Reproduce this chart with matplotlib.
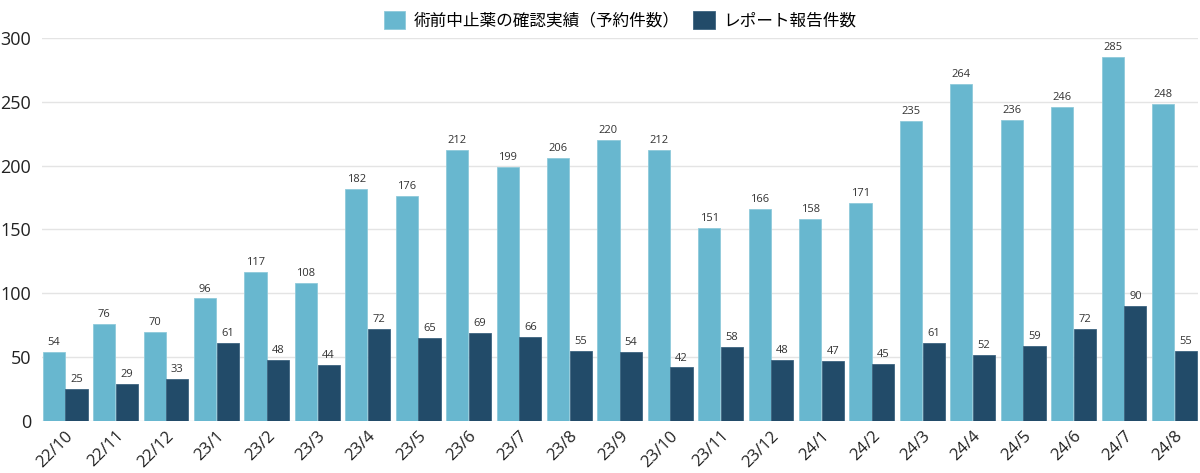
import numpy as np
import matplotlib.pyplot as plt

months = ["22/10", "22/11", "22/12",
          "23/1", "23/2", "23/3", "23/4", "23/5", "23/6", "23/7", "23/8", "23/9", "23/10", "23/11", "23/12",
          "24/1", "24/2", "24/3", "24/4", "24/5", "24/6", "24/7", "24/8"]
confirmed = [54, 76, 70, 96, 117, 108, 182, 176, 212, 199, 206, 220, 212, 151, 166, 158, 171, 235, 264, 236, 246, 285, 248]
reports = [25, 29, 33, 61, 48, 44, 72, 65, 69, 66, 55, 54, 42, 58, 48, 47, 45, 61, 52, 59, 72, 90, 55]

plt.rcParams['font.family'] = ['Open Sans', 'Noto Sans CJK JP', 'DejaVu Sans']

light = "#68b7cf"
dark = "#224b69"

fig = plt.figure(figsize=(12, 4.73), dpi=100)
ax = fig.add_axes([0.035, 0.110, 0.963, 0.810])

x = np.arange(len(months))
w = 0.44
b1 = ax.bar(x - 0.225, confirmed, w, color=light, label="術前中止薬の確認実績（予約件数）",
            edgecolor="#8fcadb", linewidth=0.6, zorder=3)
b2 = ax.bar(x + 0.225, reports, w, color=dark, label="レポート報告件数",
            edgecolor="#3d6480", linewidth=0.6, zorder=3)

for bars in (b1, b2):
    for r in bars:
        ax.text(r.get_x() + r.get_width() / 2, r.get_height() + 3, f"{int(r.get_height())}",
                ha="center", va="bottom", fontsize=8, color="#333333")

ax.set_ylim(0, 300)
ax.set_xlim(-0.46, len(months) - 0.54)
ax.set_yticks(range(0, 301, 50))
ax.tick_params(axis="y", length=0, labelsize=13, colors="#222222", pad=8)
ax.tick_params(axis="x", length=0, labelsize=12, colors="#222222", pad=5)
ax.set_xticks(x)
ax.set_xticklabels(months, rotation=45, ha="right", rotation_mode="anchor")
ax.grid(axis="y", color="#e4e4e4", linewidth=1, zorder=0)
for s in ax.spines.values():
    s.set_visible(False)

ax.legend(loc="lower center", bbox_to_anchor=(0.5, 1.0), ncol=2, frameon=False,
          fontsize=12, handlelength=1.3, handleheight=1.3, columnspacing=0.8, handletextpad=0.5,
          borderaxespad=0.1)

plt.savefig("out.png", dpi=100)
